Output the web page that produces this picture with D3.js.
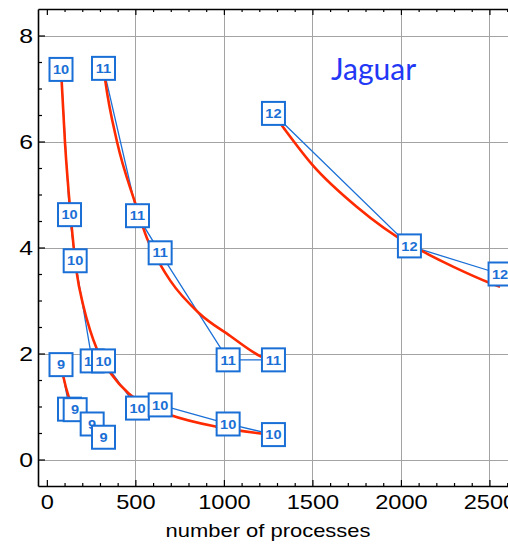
<!DOCTYPE html>
<html>
<head>
<meta charset="utf-8">
<script src="https://cdn.jsdelivr.net/npm/d3@7"></script>
<style>
  html, body { margin: 0; padding: 0; background: #fff; overflow: hidden; }
  svg { display: block; }
</style>
</head>
<body>
<svg id="chart" width="508" height="544"></svg>
<script>
// Run time (vertical) against number of processes, one series per problem size.
const xMajorTicks = [0, 500, 1000, 1500, 2000, 2500];
const yMajorTicks = [0, 2, 4, 6, 8];
const seriesLabels = ["9", "10", "11", "12"];

// measured points
const procs9  = [80, 128, 160, 256, 320];
const time9   = [1.79, 0.95, 0.94, 0.67, 0.42];
const procs10 = [80, 128, 160, 256, 320, 512, 640, 1024, 1280];
const time10  = [7.36, 4.62, 3.75, 1.86, 1.86, 0.97, 1.03, 0.67, 0.47];
const procs11 = [320, 512, 640, 1024, 1280];
const time11  = [7.38, 4.60, 3.90, 1.88, 1.88];
const procs12 = [1280, 2048, 2560];
const time12  = [6.53, 4.03, 3.50];

// fitted trend curves
const fitProcs9  = [80, 94, 122, 160, 256, 320];
const fitTime9   = [1.79, 1.55, 1.20, 0.95, 0.60, 0.47];
const fitProcs10 = [80, 103, 132, 168, 206, 244, 283, 367, 461, 560, 697, 955, 1210, 1280];
const fitTime10  = [7.36, 5.95, 4.70, 3.54, 2.90, 2.44, 2.08, 1.60, 1.25, 1.03, 0.84, 0.62, 0.49, 0.46];
const fitProcs11 = [321, 330, 396, 499, 565, 640, 698, 857, 1036, 1210, 1280];
const fitTime11  = [7.38, 7.15, 6.00, 4.84, 4.18, 3.68, 3.37, 2.77, 2.33, 1.94, 1.84];
const fitProcs12 = [1280, 1337, 1500, 1750, 2048, 2120, 2300, 2496, 2560];
const fitTime12  = [6.52, 6.26, 5.56, 4.77, 4.06, 3.93, 3.63, 3.34, 3.26];

const zip = (xs, ys) => xs.map((v, i) => [v, ys[i]]);
const series = [
  { label: seriesLabels[0], pts: zip(procs9, time9),   fit: zip(fitProcs9, fitTime9) },
  { label: seriesLabels[1], pts: zip(procs10, time10), fit: zip(fitProcs10, fitTime10) },
  { label: seriesLabels[2], pts: zip(procs11, time11), fit: zip(fitProcs11, fitTime11) },
  { label: seriesLabels[3], pts: zip(procs12, time12), fit: zip(fitProcs12, fitTime12) }
];

const BLUE = "#1a6fd6";
const RED = "#ff2a00";
const GRID = "#a3a3a3";
const TEXT_STRETCH = 1.18;
const SANS = "Liberation Sans, Arial, Helvetica, sans-serif";

const plotLeft = 38, plotTop = 9, plotBottom = 486, plotRight = 516;
const x = d3.scaleLinear().domain([-50, 2650]).range([plotLeft, plotRight]);
const y = d3.scaleLinear().domain([-0.5, 8.5]).range([plotBottom, plotTop]);

const svg = d3.select("#chart");

// grid
const grid = svg.append("g");
grid.selectAll("line.gx").data(xMajorTicks.filter(d => d > 0)).join("line")
  .attr("class", "gx")
  .attr("x1", d => Math.round(x(d)) + 0.5).attr("x2", d => Math.round(x(d)) + 0.5)
  .attr("y1", plotTop).attr("y2", plotBottom)
  .attr("stroke", GRID).attr("stroke-width", 1);
grid.selectAll("line.gy").data(yMajorTicks).join("line")
  .attr("class", "gy")
  .attr("y1", d => Math.round(y(d)) + 0.5).attr("y2", d => Math.round(y(d)) + 0.5)
  .attr("x1", plotLeft).attr("x2", plotRight)
  .attr("stroke", GRID).attr("stroke-width", 1);

// axes
const xMinor = d3.range(0, 2700, 100).filter(d => d % 500 !== 0);
const yMinor = d3.range(0, 8.5, 0.5).filter(d => d % 2 !== 0);
const plain = d3.format("d");

function styleAxis(g) {
  g.attr("font-family", SANS);
  g.selectAll("path.domain").attr("stroke", "#000").attr("stroke-width", 1.6);
  g.selectAll(".tick line").attr("stroke", "#000").attr("stroke-width", 1.2);
}

// bottom
const gB = svg.append("g").attr("transform", `translate(0,${plotBottom})`);
gB.call(d3.axisBottom(x).tickValues(xMajorTicks).tickFormat(plain)
    .tickSize(-6).tickSizeOuter(0).tickPadding(9))
  .call(styleAxis);
gB.selectAll(".tick text")
  .attr("font-family", SANS)
  .attr("font-size", 20).attr("fill", "#000")
  .attr("transform", `scale(${TEXT_STRETCH},1)`);
const gBm = svg.append("g").attr("transform", `translate(0,${plotBottom})`);
gBm.call(d3.axisBottom(x).tickValues(xMinor).tickSize(-3).tickFormat(""))
  .call(styleAxis);
gBm.select("path.domain").remove();

// top
const gT = svg.append("g").attr("transform", `translate(0,${plotTop})`);
gT.call(d3.axisTop(x).tickValues(xMajorTicks).tickSize(-6).tickSizeOuter(0).tickFormat(""))
  .call(styleAxis);
const gTm = svg.append("g").attr("transform", `translate(0,${plotTop})`);
gTm.call(d3.axisTop(x).tickValues(xMinor).tickSize(-3).tickFormat(""))
  .call(styleAxis);
gTm.select("path.domain").remove();

// left
const gL = svg.append("g").attr("transform", `translate(${plotLeft},0)`);
gL.call(d3.axisLeft(y).tickValues(yMajorTicks).tickFormat(plain).tickSize(-7).tickSizeOuter(0))
  .call(styleAxis);
gL.selectAll(".tick text")
  .attr("font-family", SANS)
  .attr("font-size", 21).attr("fill", "#000")
  .attr("x", -5 / TEXT_STRETCH)
  .attr("transform", `scale(${TEXT_STRETCH},1)`);
const gLm = svg.append("g").attr("transform", `translate(${plotLeft},0)`);
gLm.call(d3.axisLeft(y).tickValues(yMinor).tickSize(-4).tickFormat(""))
  .call(styleAxis);
gLm.select("path.domain").remove();

// axis title
svg.append("text")
  .attr("transform", `translate(268,537) scale(1.22,1)`)
  .attr("text-anchor", "middle")
  .attr("font-family", SANS)
  .attr("font-size", 18).attr("fill", "#000")
  .text("number of processes");

// connecting lines
const line = d3.line().x(d => x(d[0])).y(d => y(d[1]));
const curve = d3.line().x(d => x(d[0])).y(d => y(d[1])).curve(d3.curveMonotoneX);

svg.append("g").selectAll("path").data(series).join("path")
  .attr("d", s => line(s.pts))
  .attr("fill", "none").attr("stroke", BLUE).attr("stroke-width", 1.3);

svg.append("g").selectAll("path").data(series).join("path")
  .attr("d", s => curve(s.fit))
  .attr("fill", "none").attr("stroke", RED).attr("stroke-width", 2.6);

// labelled point markers
const box = 23;
series.forEach(s => {
  const g = svg.append("g");
  const m = g.selectAll("g").data(s.pts).join("g")
    .attr("transform", d => `translate(${x(d[0])},${y(d[1])})`);
  m.append("rect")
    .attr("x", -box / 2).attr("y", -box / 2)
    .attr("width", box).attr("height", box)
    .attr("fill", "#fff").attr("stroke", BLUE).attr("stroke-width", 2);
  m.append("text")
    .attr("text-anchor", "middle").attr("dy", "0.36em")
    .attr("transform", "scale(1.12,1)")
    .attr("font-family", SANS)
    .attr("font-weight", "bold").attr("font-size", 13)
    .attr("fill", BLUE)
    .text(s.label);
});

// machine name
svg.append("text")
  .attr("x", 331).attr("y", 80)
  .attr("font-family", "Lato, 'Open Sans', sans-serif")
  .attr("font-size", 30).attr("fill", "#2238f5")
  .text("Jaguar");
</script>
</body>
</html>
